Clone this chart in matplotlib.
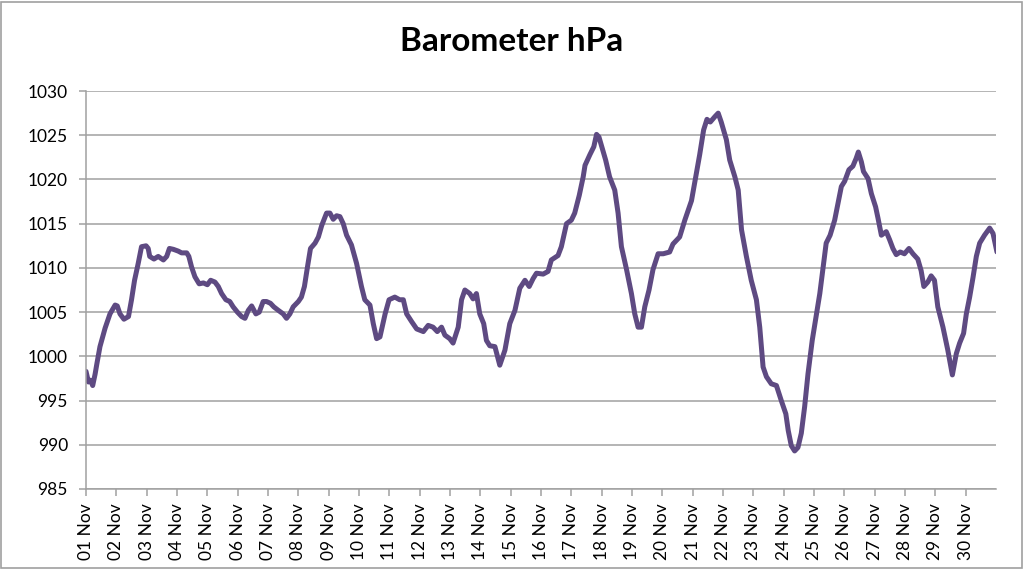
import numpy as np
import pandas as pd
import matplotlib
matplotlib.use("Agg")
import matplotlib.pyplot as plt
import matplotlib.dates as mdates
from matplotlib.patches import Rectangle

# readings: days since 01 Nov 00:00, pressure in hPa
days = [0.0, 0.08, 0.15, 0.22, 0.3, 0.36, 0.46, 0.63, 0.79, 0.96, 1.03, 1.12, 1.25, 1.4,
        1.5, 1.6, 1.72, 1.83, 1.98, 2.05, 2.1, 2.24, 2.38, 2.55, 2.66, 2.75, 2.88, 3.04,
        3.15, 3.32, 3.39, 3.48, 3.59, 3.73, 3.87, 4.0, 4.11, 4.25, 4.36, 4.47, 4.61, 4.74,
        4.85, 4.99, 5.13, 5.24, 5.35, 5.46, 5.6, 5.71, 5.84, 5.95, 6.08, 6.19, 6.34, 6.5,
        6.61, 6.72, 6.83, 7.0, 7.1, 7.2, 7.3, 7.4, 7.55, 7.66, 7.77, 7.93, 8.04, 8.15,
        8.26, 8.37, 8.48, 8.59, 8.75, 8.92, 9.08, 9.19, 9.36, 9.47, 9.58, 9.69, 9.86,
        9.99, 10.18, 10.34, 10.46, 10.57, 10.74, 10.9, 11.12, 11.28, 11.44, 11.58, 11.72,
        11.83, 11.99, 12.1, 12.27, 12.38, 12.49, 12.65, 12.76, 12.87, 12.98, 13.11, 13.2,
        13.31, 13.48, 13.64, 13.81, 13.97, 14.14, 14.3, 14.47, 14.61, 14.74, 14.85, 15.07,
        15.23, 15.34, 15.56, 15.67, 15.84, 16.0, 16.11, 16.26, 16.39, 16.45, 16.61, 16.74,
        16.83, 16.91, 17.02, 17.13, 17.26, 17.43, 17.54, 17.65, 17.82, 17.98, 18.09, 18.2,
        18.31, 18.42, 18.56, 18.69, 18.86, 19.03, 19.24, 19.35, 19.57, 19.74, 19.96, 20.1,
        20.23, 20.36, 20.47, 20.58, 20.73, 20.84, 20.94, 21.11, 21.22, 21.39, 21.5, 21.61,
        21.77, 21.93, 22.1, 22.21, 22.32, 22.43, 22.59, 22.76, 22.92, 23.07, 23.15, 23.25,
        23.36, 23.47, 23.58, 23.69, 23.8, 23.94, 24.08, 24.19, 24.29, 24.4, 24.53, 24.68,
        24.79, 24.9, 25.01, 25.15, 25.28, 25.39, 25.46, 25.56, 25.63, 25.78, 25.89, 26.03,
        26.11, 26.22, 26.38, 26.49, 26.6, 26.71, 26.84, 26.98, 27.13, 27.26, 27.42, 27.53,
        27.62, 27.75, 27.86, 27.97, 28.08, 28.25, 28.41, 28.56, 28.69, 28.8, 28.93, 29.02,
        29.13, 29.24, 29.35, 29.46, 29.62, 29.79, 29.9, 30.03]
hpa = [998.3, 997.1, 997.3, 996.7, 998.0, 999.2, 1001.1, 1003.2, 1004.8, 1005.8, 1005.7,
       1004.8, 1004.2, 1004.5, 1006.4, 1008.6, 1010.5, 1012.4, 1012.5, 1012.2, 1011.3,
       1011.0, 1011.3, 1010.9, 1011.3, 1012.2, 1012.1, 1011.9, 1011.7, 1011.7, 1011.3,
       1010.1, 1009.0, 1008.2, 1008.3, 1008.1, 1008.6, 1008.4, 1007.9, 1007.1, 1006.4,
       1006.2, 1005.6, 1005.0, 1004.5, 1004.3, 1005.2, 1005.7, 1004.8, 1005.0, 1006.2,
       1006.2, 1006.0, 1005.6, 1005.2, 1004.8, 1004.3, 1004.8, 1005.6, 1006.2, 1006.7,
       1007.9, 1010.1, 1012.2, 1012.8, 1013.5, 1014.8, 1016.2, 1016.2, 1015.5, 1015.9,
       1015.8, 1015.0, 1013.7, 1012.6, 1010.5, 1007.9, 1006.4, 1005.8, 1003.7, 1002.0,
       1002.2, 1004.8, 1006.4, 1006.7, 1006.4, 1006.4, 1004.8, 1003.9, 1003.1, 1002.8,
       1003.5, 1003.3, 1002.8, 1003.3, 1002.4, 1002.0, 1001.5, 1003.3, 1006.4, 1007.5,
       1007.1, 1006.5, 1007.1, 1004.8, 1003.7, 1001.8, 1001.2, 1001.1, 999.0, 1000.7,
       1003.7, 1005.2, 1007.7, 1008.6, 1007.9, 1008.8, 1009.4, 1009.3, 1009.6, 1010.9,
       1011.4, 1012.4, 1015.0, 1015.4, 1016.2, 1018.2, 1020.3, 1021.6, 1022.8, 1023.7,
       1025.1, 1024.8, 1023.5, 1022.2, 1020.3, 1018.8, 1016.2, 1012.4, 1009.8, 1007.1,
       1004.8, 1003.3, 1003.3, 1005.6, 1007.5, 1009.8, 1011.6, 1011.6, 1011.8, 1012.7,
       1013.5, 1015.4, 1017.6, 1020.3, 1022.8, 1025.6, 1026.8, 1026.5, 1027.1, 1027.5,
       1026.5, 1024.5, 1022.2, 1020.3, 1018.8, 1014.3, 1011.3, 1008.6, 1006.4, 1003.3,
       998.8, 997.7, 996.9, 996.7, 995.0, 993.5, 991.6, 989.9, 989.3, 989.7, 991.3,
       994.3, 998.0, 1001.8, 1004.8, 1007.1, 1009.8, 1012.8, 1013.7, 1015.4, 1017.3,
       1019.2, 1019.8, 1021.1, 1021.5, 1022.4, 1023.1, 1022.0, 1020.9, 1020.1, 1018.4,
       1016.9, 1015.6, 1013.7, 1014.1, 1013.2, 1012.2, 1011.5, 1011.8, 1011.6, 1012.2,
       1011.6, 1011.0, 1009.7, 1007.9, 1008.4, 1009.1, 1008.6, 1005.6, 1003.3, 1000.7,
       997.9, 1000.3, 1001.5, 1002.6, 1004.8, 1006.7, 1008.9, 1011.3, 1012.8, 1013.7,
       1014.5, 1013.9, 1011.8]

start = pd.Timestamp("2013-11-01")
times = start + pd.to_timedelta(days, unit="D")

plt.rcParams["font.family"] = ["Lato", "DejaVu Sans"]

fig = plt.figure(figsize=(10.24, 5.69), dpi=100)
ax = fig.add_axes([0.084, 0.1406, 0.8887, 0.6994])

ax.plot(times, hpa, color="#5E4A82", lw=3.6, solid_joinstyle="round",
        solid_capstyle="round")

ax.set_ylim(985, 1030)
ax.set_yticks(np.arange(985, 1031, 5))
ax.set_xlim(start, start + pd.Timedelta(days=30))
ax.xaxis.set_major_locator(mdates.DayLocator())
ticks = ax.get_xticks()
ax.set_xticks(ticks[:-1])
ax.xaxis.set_major_formatter(mdates.DateFormatter("%d %b"))

ax.grid(axis="y", color="#A0A0A0", lw=1.1)
ax.set_axisbelow(True)
for s in ["top", "right"]:
    ax.spines[s].set_visible(False)
for s in ["left", "bottom"]:
    ax.spines[s].set_color("#A0A0A0")
    ax.spines[s].set_linewidth(1.1)
ax.tick_params(axis="both", colors="#A0A0A0", labelcolor="black", length=5, width=1.1,
               labelsize=12.5)
ax.tick_params(axis="y", pad=8)
ax.tick_params(axis="x", labelrotation=90, pad=5)

fig.suptitle("Barometer hPa", x=0.5, y=0.952, fontsize=24, fontweight="bold")

fig.patches.append(Rectangle((0.001, 0.002), 0.997, 0.995, transform=fig.transFigure,
                             fill=False, edgecolor="#A0A0A0", lw=1.2))

fig.savefig("out.png", dpi=100)
